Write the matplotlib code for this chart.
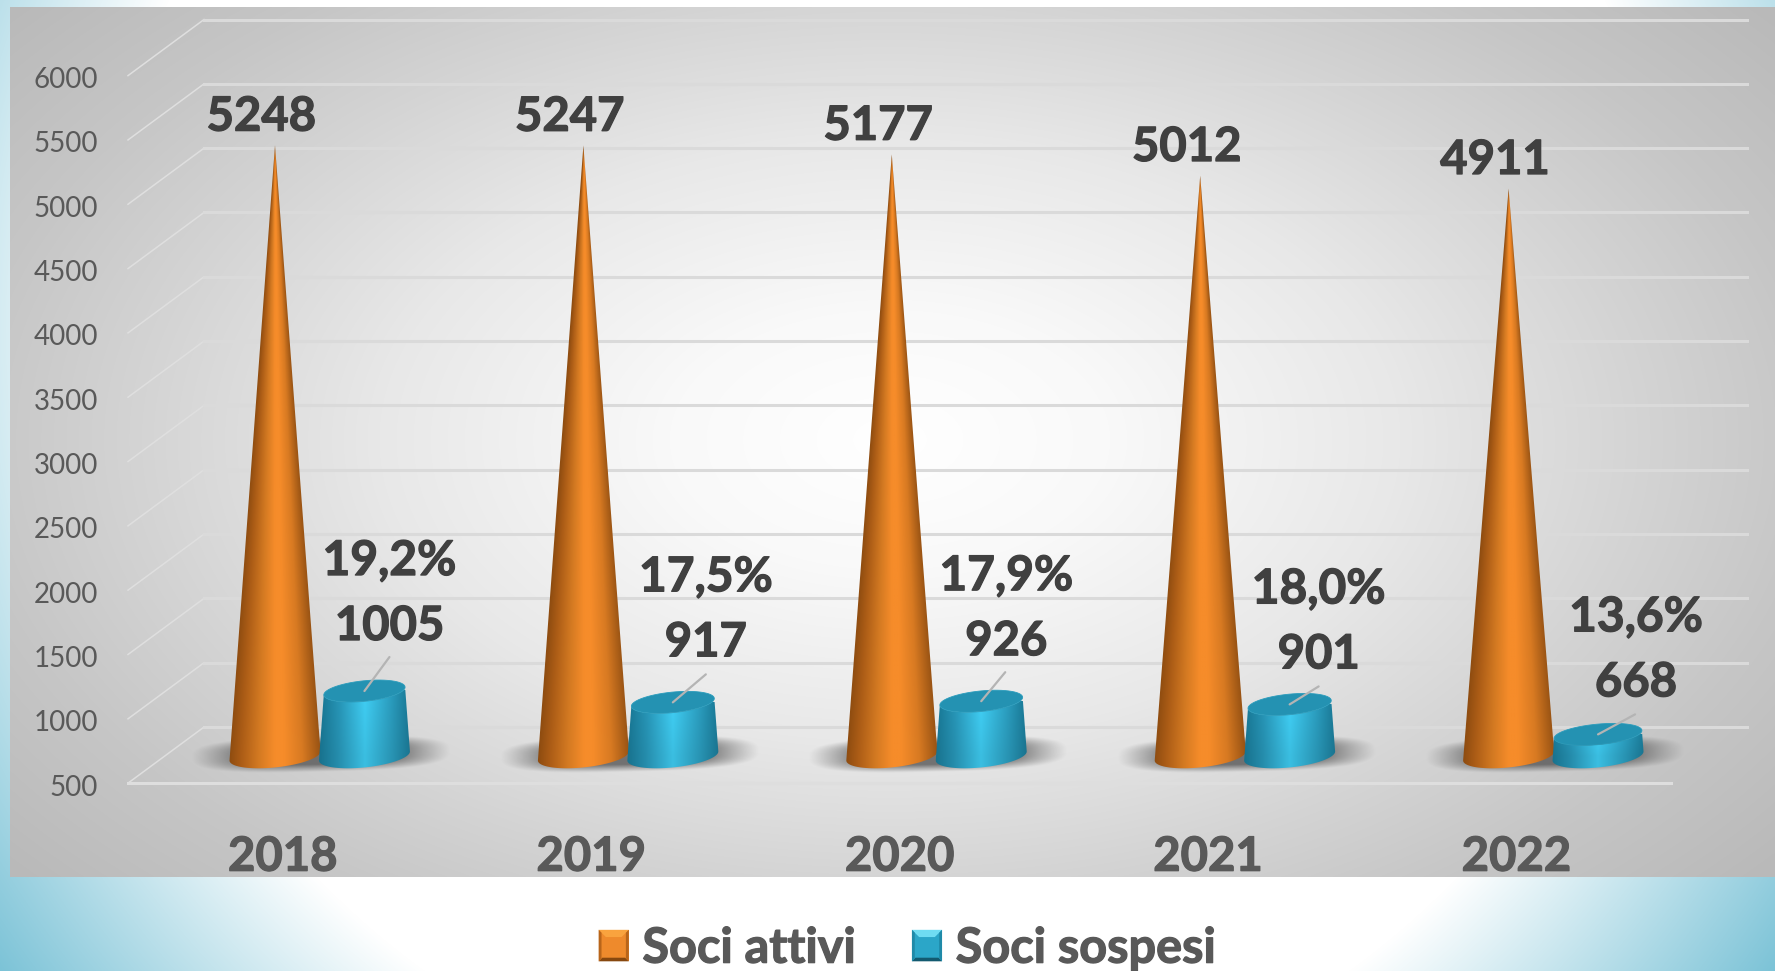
import numpy as np
import matplotlib
matplotlib.use('Agg')
import matplotlib.pyplot as plt
import matplotlib.patheffects as pe
from matplotlib.patches import Polygon, Patch
from matplotlib.legend_handler import HandlerPatch

plt.rcParams['font.family'] = ['Lato', 'DejaVu Sans']

# data
years = ['2018', '2019', '2020', '2021', '2022']
attivi = [5248, 5247, 5177, 5012, 4911]
sospesi = [1005, 917, 926, 901, 668]
percent = ['19,2%', '17,5%', '17,9%', '18,0%', '13,6%']
y_ticks = [500, 1000, 1500, 2000, 2500, 3000, 3500, 4000, 4500, 5000, 5500, 6000]

# layout, all in output pixels
W, H = 1775, 971
px_cat = 308.4      # pixels between two categories
px_val = 0.12864    # pixels for one unit of value
x0_px = 275         # pixel x of the first cone
y0_px = 756         # pixel y of value 500 in the middle of the floor
base = 500
cyl_off = 0.29
back_dv, front_dv = 225, 211
# offsets of the sospesi labels from top of the cylinder
label_dx = [25, 33, 25, 29, 38]
label_dy = [65, 60, 60, 50, 52]
leader_dx = [25, 33, 24, 29, 37]
leader_dy = [34, 28, 29, 18, 20]

xlim = (-x0_px / px_cat, (W - x0_px) / px_cat)
ylim = (base - (H - y0_px) / px_val, base + y0_px / px_val)

heavy = [pe.withStroke(linewidth=0.9, foreground='#404040')]
heavy2 = [pe.withStroke(linewidth=0.9, foreground='#595959')]


def lookup(u, stops, colors):
    rgb = np.array([matplotlib.colors.to_rgb(c) for c in colors])
    return np.stack([np.interp(u, stops, rgb[:, k]) for k in range(3)], axis=-1)


def arc(cx, cy, rx, ry, shear, a0, a1, n=60):
    t = np.radians(np.linspace(a0, a1, n))
    return np.column_stack([cx + rx * np.cos(t),
                            cy + ry * np.sin(t) + shear * np.cos(t)])


orange_stops = [-1, -0.75, -0.35, 0.0, 0.2, 0.6, 1]
orange_cols = ['#8e4c10', '#ab5c16', '#d47a22', '#f68c2a', '#f68c2a', '#d87a22', '#9a5414']
blue_stops = [-1, -0.6, 0.0, 0.6, 1]
blue_cols = ['#1a7c9a', '#2898ba', '#40cff5', '#2ca0c2', '#1c7e9c']


def shaded(ax, cx, y_top, rx_base, rx_top, poly, stops, cols, z, fade=0.0):
    # horizontal gradient that follows the taper of the bar, clipped to its outline
    x = np.linspace(cx - rx_base * 1.05, cx + rx_base * 1.05, 160)
    y = np.linspace(base - 110, y_top, 500)
    X, Y = np.meshgrid(x, y)
    frac = np.clip((Y - base) / (y_top - base), 0, 1)
    r = rx_base + (rx_top - rx_base) * frac
    img = lookup(np.clip((X - cx) / np.maximum(r, 1e-4), -1, 1), stops, cols)
    img = img * (1 - fade * (1 - frac))[..., None]
    im = ax.imshow(img, extent=(x[0], x[-1], y[0], y[-1]), origin='lower',
                   aspect='auto', zorder=z, interpolation='bilinear')
    patch = Polygon(poly, closed=True, transform=ax.transData, fc='none', ec='none')
    ax.add_patch(patch)
    im.set_clip_path(patch)


class BevelHandler(HandlerPatch):
    # legend square with lighter top and darker bottom
    def __init__(self, top, side, mid, low):
        super().__init__()
        self.cols = (top, side, mid, low)

    def create_artists(self, legend, orig_handle, xdescent, ydescent, width, height, fontsize, trans):
        x0, y0 = -xdescent, -ydescent
        x1, y1 = x0 + width, y0 + height
        b = width * 0.24
        top, side, mid, low = self.cols
        out = []
        for pts, col in [([(x0, y0), (x1, y0), (x1, y1), (x0, y1)], mid),
                         ([(x0, y1), (x1, y1), (x1 - b, y1 - b), (x0 + b, y1 - b)], top),
                         ([(x0, y0), (x1, y0), (x1 - b * 0.5, y0 + b * 0.5), (x0 + b * 0.5, y0 + b * 0.5)], low),
                         ([(x0, y0), (x0, y1), (x0 + b * 0.4, y1 - b * 0.4), (x0 + b * 0.4, y0 + b * 0.4)], side),
                         ([(x1, y0), (x1, y1), (x1 - b * 0.4, y1 - b * 0.4), (x1 - b * 0.4, y0 + b * 0.4)], side)]:
            p = Polygon(pts, closed=True, fc=col, ec='none', transform=trans)
            out.append(p)
        return out


fig = plt.figure(figsize=(W / 100, H / 100), dpi=100)
ax = fig.add_axes([0, 0, 1, 1])
ax.axis('off')

# page and panel backgrounds
gx, gy = np.meshgrid(np.arange(W) + 0.5, np.arange(H) + 0.5)
t = np.clip((np.hypot(gx - 887, gy - 330) - 790) / 304, 0, 1)
bg = lookup(t, [0, 1], ['#ffffff', '#7cc3d7'])
d = np.hypot((gx - 890) / 880, (gy - 440) / 520)
panel = lookup(d, [0, 0.25, 0.58, 0.85, 1.05, 1.3],
               ['#ffffff', '#f9f9f9', '#e8e8e8', '#d4d4d4', '#c6c6c6', '#b9b9b9'])
mask = (gx >= 10) & (gy >= 7) & (gy <= 877)
bg[mask] = panel[mask]
ax.imshow(bg, extent=(xlim[0], xlim[1], ylim[0], ylim[1]), origin='upper',
          aspect='auto', zorder=0, interpolation='nearest')

# gridlines, back wall and side wall
grid_col = '#dadada'
x_front = (128 - x0_px) / px_cat
x_back = (204 - x0_px) / px_cat
x_right = (1747 - x0_px) / px_cat
for v in y_ticks:
    ax.plot([x_front, x_back], [v - front_dv, v + back_dv], color='#dfdfdf', lw=1.1, zorder=1)
    ax.plot([x_back, x_right], [v + back_dv, v + back_dv], color=grid_col, lw=2.2, zorder=1)
    ax.text((98 - x0_px) / px_cat, v - front_dv - 35, str(v), ha='right', va='center',
            fontsize=20, color='#595959', zorder=6)
ax.plot([x_front, (1671 - x0_px) / px_cat], [base - front_dv] * 2, color='#dedede', lw=2.2, zorder=1)

rx_b = 0.1475
ry_b = 89
shear = 35

for i, year in enumerate(years):
    cx = float(i)
    xc = cx + cyl_off

    # floor shadow
    sx = np.linspace(cx - 0.45 + 0.15, cx + 0.45 + 0.15, 300)
    sy = np.linspace(base - 190, base + 190, 80)
    X, Y = np.meshgrid(sx, sy)
    u = (X - cx - 0.15) / 0.42
    w = (Y - (base + 12) - 60 * (X - cx - 0.15)) / 140
    dist = (np.abs(u) ** 3 + np.abs(w) ** 3) ** (1 / 3)
    alpha = np.clip((1 - dist) / 0.42, 0, 1) ** 1.1 * 0.82
    sh = np.zeros(X.shape + (4,))
    sh[..., :3] = 0.35
    sh[..., 3] = alpha
    ax.imshow(sh, extent=(sx[0], sx[-1], sy[0], sy[-1]), origin='lower', aspect='auto',
              zorder=2, interpolation='bilinear')

    # soci attivi, a cone
    v = attivi[i]
    outline = np.vstack([[cx, v], arc(cx, base, rx_b, ry_b, shear, 180, 360)])
    shaded(ax, cx, v, rx_b, 0.0, outline, orange_stops, orange_cols, 3)
    ax.text(cx - 0.044, v + 222, str(v), ha='center', va='center', fontsize=34,
            fontweight='bold', color='#404040', zorder=6, path_effects=heavy)

    # soci sospesi, a truncated cone
    s = sospesi[i]
    rx_top = rx_b * (1 - (s - base) / (max(attivi) - base))
    body = np.vstack([arc(xc, base, rx_b, ry_b, shear, 180, 360),
                      arc(xc, s, rx_top, 80, 30, 0, -180)])
    shaded(ax, xc, s, rx_b, rx_top, body, blue_stops, blue_cols, 4, fade=0.08)
    ax.add_patch(Polygon(arc(xc, s, rx_top, 80, 30, 0, 360), closed=True,
                         fc='#2492b2', ec='#2a9cbc', lw=0.6, zorder=5))

    # leader and the two labels
    ax.annotate('', xy=(xc, s), xytext=(leader_dx[i], leader_dy[i]),
                textcoords='offset pixels',
                arrowprops=dict(arrowstyle='-', color='#b4b4b4', lw=1.6,
                                shrinkA=0, shrinkB=0), zorder=6)
    ax.annotate(str(s), xy=(xc, s), xytext=(label_dx[i], label_dy[i]),
                textcoords='offset pixels', ha='center', va='center', fontsize=34,
                fontweight='bold', color='#404040', zorder=6, path_effects=heavy)
    ax.annotate(percent[i], xy=(xc, s), xytext=(label_dx[i], label_dy[i] + 65),
                textcoords='offset pixels', ha='center', va='center', fontsize=34.5,
                fontweight='bold', color='#404040', zorder=6, path_effects=heavy)

    # category label
    ax.text(cx + 0.025, -283, year, ha='center', va='center', fontsize=34,
            fontweight='bold', color='#595959', zorder=6, path_effects=heavy2)

h_att = Patch(label='Soci attivi')
h_sos = Patch(label='Soci sospesi')
leg = ax.legend(handles=[h_att, h_sos], loc='center', bbox_to_anchor=(0.511, 0.0235), ncol=2,
                frameon=False, handlelength=0.62, handleheight=0.62, handletextpad=0.28,
                columnspacing=1.15, prop={'size': 35, 'weight': 'bold'},
                handler_map={h_att: BevelHandler('#f9a33e', '#b8651a', '#ee8a2c', '#87480f'),
                             h_sos: BevelHandler('#6fdcf2', '#1f8aa8', '#2ba6c8', '#135a70')})
for txt in leg.get_texts():
    txt.set_color('#595959')
    txt.set_path_effects(heavy2)

ax.set_xlim(xlim)
ax.set_ylim(ylim)
fig.savefig('out.png', dpi=100)
